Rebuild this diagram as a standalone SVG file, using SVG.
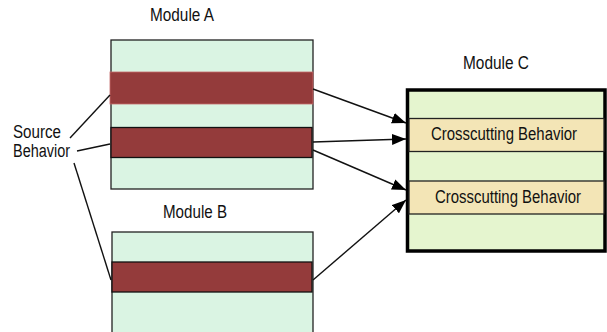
<svg xmlns="http://www.w3.org/2000/svg" width="607" height="332" viewBox="0 0 607 332">
  <style>
    .lbl { font-family: "Liberation Sans", Arial, sans-serif; font-size: 18px; fill: #111; }
    .mod { fill: #daf4e3; stroke: #222; stroke-width: 1.3; }
    .src { fill: #943b3b; stroke: #111; stroke-width: 1.3; }
    .cc  { fill: #f3e5b6; stroke: #222; stroke-width: 1.3; }
    .wire { stroke: #111; stroke-width: 1.4; fill: none; }
    .arrow { stroke: #111; stroke-width: 1.4; fill: none; marker-end: url(#head); }
  </style>
  <defs>
    <marker id="head" viewBox="0 0 14 11" refX="14" refY="5.5" markerWidth="14" markerHeight="11" markerUnits="userSpaceOnUse" orient="auto">
      <path d="M0,0 L14,5.5 L0,11 z" fill="#000"/>
    </marker>
  </defs>
  <rect width="607" height="332" fill="#fff"/>

  <g id="module-a">
    <text class="lbl" x="182" y="21" text-anchor="middle" textLength="64" lengthAdjust="spacingAndGlyphs">Module A</text>
    <rect class="mod" x="111" y="40" width="202" height="149"/>
    <rect x="110" y="72" width="203" height="32" fill="#943b3b" stroke="#c46a6a" stroke-width="0.8"/>
    <rect class="src" x="111" y="127.5" width="201" height="30"/>
  </g>

  <g id="module-b">
    <text class="lbl" x="195" y="218" text-anchor="middle" textLength="64" lengthAdjust="spacingAndGlyphs">Module B</text>
    <rect class="mod" x="112" y="232" width="201" height="104"/>
    <rect class="src" x="112" y="262" width="200" height="30"/>
  </g>

  <g id="module-c">
    <text class="lbl" x="496" y="69" text-anchor="middle" textLength="66" lengthAdjust="spacingAndGlyphs">Module C</text>
    <rect x="407.5" y="90" width="197.5" height="161" fill="#e5f5cf" stroke="#000" stroke-width="3.5"/>
    <rect class="cc" x="409" y="118.5" width="195" height="33"/>
    <rect class="cc" x="409" y="181" width="195" height="33"/>
    <text class="lbl" x="504" y="140" text-anchor="middle" textLength="146" lengthAdjust="spacingAndGlyphs">Crosscutting Behavior</text>
    <text class="lbl" x="508" y="203" text-anchor="middle" textLength="146" lengthAdjust="spacingAndGlyphs">Crosscutting Behavior</text>
  </g>

  <g id="source-behavior">
    <text class="lbl" x="13" y="138" textLength="48" lengthAdjust="spacingAndGlyphs">Source</text>
    <text class="lbl" x="13" y="157" textLength="57" lengthAdjust="spacingAndGlyphs">Behavior</text>
  </g>

  <g id="connectors">
    <line class="wire" x1="70" y1="138" x2="110" y2="95"/>
    <line class="wire" x1="77" y1="151" x2="110" y2="144"/>
    <line class="wire" x1="74" y1="163" x2="111" y2="280"/>
    <line class="arrow" x1="313" y1="89" x2="406" y2="123"/>
    <line class="arrow" x1="313" y1="142" x2="406" y2="139"/>
    <line class="arrow" x1="313" y1="150" x2="406" y2="190"/>
    <line class="arrow" x1="313" y1="280" x2="406" y2="200"/>
  </g>
</svg>
